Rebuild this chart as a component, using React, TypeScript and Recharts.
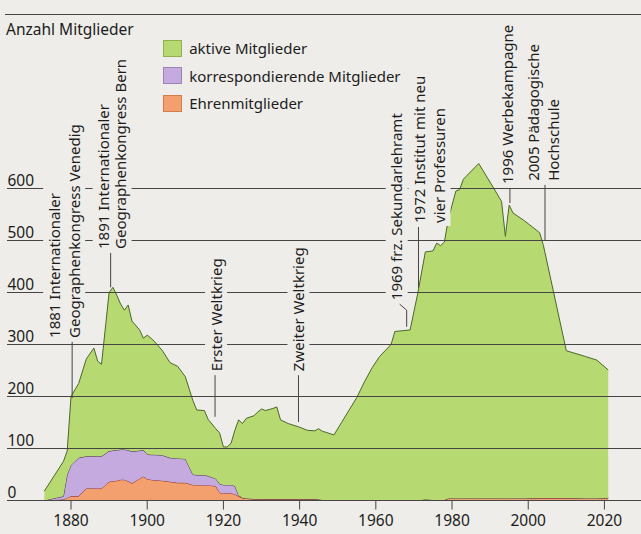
import React from "react";
import { AreaChart, Area, XAxis, YAxis, ReferenceLine, Legend } from "recharts";

// Jahre und Mitgliederzahlen
const years = [
  1873, 1878, 1879, 1880, 1882, 1884, 1886, 1887, 1888, 1890, 1891, 1892, 1893, 1894, 1895, 1896,
  1898, 1899, 1900, 1901, 1902, 1904, 1906, 1908, 1910, 1912, 1913, 1915, 1916, 1918, 1919, 1920,
  1921, 1922, 1923, 1924, 1925, 1926, 1928, 1929, 1930, 1931, 1933, 1934, 1935, 1937, 1940, 1942,
  1944, 1945, 1946, 1947, 1949, 1951, 1955, 1957, 1959, 1961, 1964, 1965, 1969, 1971, 1973, 1975,
  1976, 1977, 1978, 1979, 1981, 1982, 1983, 1987, 1991, 1993, 1994, 1995, 1996, 1999, 2003, 2004,
  2010, 2015, 2018, 2021,
];

const aktive = [
  18, 67, 45, 132, 143, 187, 208, 183, 177, 305, 314, 298, 280, 268, 279, 251,
  232, 215, 229, 224, 217, 201, 183, 177, 158, 142, 125, 124, 109, 96, 98, 73,
  73, 80, 107, 145, 143, 154, 160, 167, 173, 170, 174, 177, 152, 145, 138, 132,
  131, 136, 132, 131, 126, 150, 198, 228, 255, 277, 300, 325, 328, 398, 476, 479,
  495, 490, 496, 536, 591, 594, 614, 644, 596, 571, 504, 564, 549, 534, 510, 485,
  283, 273, 266, 246,
];

const korrespondierende = [
  0, 6, 45, 60, 74, 62, 62, 62, 62, 59, 59, 59, 58, 58, 60, 61,
  54, 51, 48, 48, 49, 49, 46, 47, 46, 20, 19, 20, 18, 14, 17, 16,
  16, 16, 16, 2, 0, 0, 0, 0, 0, 0, 0, 0, 0, 0, 0, 0,
  0, 0, 0, 0, 0, 0, 0, 0, 0, 0, 0, 0, 0, 0, 0, 0,
  0, 0, 0, 0, 0, 0, 0, 0, 0, 0, 0, 0, 0, 0, 0, 0,
  0, 0, 0, 0,
];

const ehren = [
  0, 2, 5, 8, 8, 23, 23, 23, 23, 36, 37, 38, 40, 40, 37, 33,
  42, 46, 41, 40, 39, 38, 36, 34, 34, 30, 30, 29, 29, 28, 15, 14,
  14, 14, 12, 8, 5, 4, 3, 3, 3, 3, 3, 3, 3, 3, 3, 3,
  3, 2, 1, 0, 0, 0, 0, 0, 0, 0, 0, 0, 0, 0, 2, 1,
  0, 0, 1, 4, 4, 4, 4, 4, 4, 4, 4, 4, 4, 4, 5, 5,
  5, 4, 4, 5,
];

const xTicks = [1880, 1900, 1920, 1940, 1960, 1980, 2000, 2020];
const yTicks = [0, 100, 200, 300, 400, 500, 600];

const data = years.map((year, i) => ({
  year,
  aktive: aktive[i],
  korrespondierende: korrespondierende[i],
  ehren: ehren[i],
}));

const BG = "#eeede9";
const INK = "#1c1c1c";
const GRID = "#454545";
const FONT = "'Noto Sans', 'Open Sans', sans-serif";

// Reihenfolge im Stapel: unten zuerst
const series = [
  { key: "ehren", name: "Ehrenmitglieder", fill: "#f4a06e", stroke: "#8a2b1e", border: "#d27d4c" },
  { key: "korrespondierende", name: "korrespondierende Mitglieder", fill: "#c4aade", stroke: "#4b2f4f", border: "#9b82b9" },
  { key: "aktive", name: "aktive Mitglieder", fill: "#b6d972", stroke: "#4a6828", border: "#8fb24f" },
];

// Ereignisse: Jahr der Hinweislinie, Linie von/bis (Mitglieder), Textzeilen
const annotations = [
  { year: 1880.3, from: 305, to: 197, lines: ["1881 Internationaler", "Geographenkongress Venedig"], offsets: [-18, 2] },
  { year: 1890.4, from: 476, to: 410, lines: ["1891 Internationaler", "Geographenkongress Bern"], offsets: [-7, 10] },
  { year: 1917.8, from: 241, to: 161, lines: ["Erster Weltkrieg"], offsets: [1] },
  { year: 1939.7, from: 241, to: 151, lines: ["Zweiter Weltkrieg"], offsets: [0] },
  { year: 1968.1, from: 366, to: 334, lines: ["1969 frz. Sekundarlehramt"], offsets: [-10], slant: true },
  { year: 1971.2, from: 526, to: 409, lines: ["1972 Institut mit neu", "vier Professuren"], offsets: [1, 21] },
  { year: 1995.2, from: 601, to: 572, lines: ["1996 Werbekampagne"], offsets: [-2] },
  { year: 2004.4, from: 607, to: 501, lines: ["2005 Pädagogische", "Hochschule"], offsets: [-11, 9] },
];

const ANN_SIZE = 15;

let ctx: CanvasRenderingContext2D | null = null;
const measure = (text: string, size: number) => {
  if (!ctx) ctx = document.createElement("canvas").getContext("2d");
  if (!ctx) return text.length * size * 0.55;
  ctx.font = `${size}px 'Noto Sans'`;
  return ctx.measureText(text).width;
};

const annotationLabel = (a: (typeof annotations)[number]) => (props: any) => {
  const vb = props.viewBox || {};
  const x = vb.x;
  const y = vb.y;
  if (x == null || y == null) return null;
  const slantH = a.slant ? 6 : 0;
  const start = y - 4 - slantH;
  const maxLen = Math.max(...a.lines.map((t) => measure(t, ANN_SIZE)));
  const colX = a.offsets.map((o) => x + o);
  const left = Math.min(...colX) - 11;
  const right = Math.max(...colX) + 11;
  return (
    <g>
      <rect x={left} y={start - maxLen - 3} width={right - left} height={maxLen + 6} fill={BG} />
      {a.slant && <line x1={x} y1={y} x2={x - 7} y2={y - slantH} stroke={GRID} strokeWidth={1} />}
      {a.lines.map((t, i) => (
        <text
          key={t}
          transform={`translate(${colX[i] + 5.5}, ${start}) rotate(-90)`}
          fontSize={ANN_SIZE}
          fontFamily={FONT}
          fill={INK}
          textAnchor="start"
        >
          {t}
        </text>
      ))}
    </g>
  );
};

const yLabel = (t: number) => (props: any) => {
  const vb = props.viewBox || {};
  return (
    <text x={vb.x + 0.5} y={vb.y - 3} fontSize={15.5} fontFamily={FONT} fill={INK}>
      {t}
    </text>
  );
};

const LegendBox = () => (
  <div style={{ fontFamily: FONT }}>
    {[...series].reverse().map((s) => (
      <div key={s.key} style={{ display: "flex", alignItems: "center", height: 27.5 }}>
        <span
          style={{
            width: 19,
            height: 17,
            background: s.fill,
            border: `1px solid ${s.border}`,
            boxSizing: "border-box",
            marginRight: 7.5,
            flex: "none",
          }}
        />
        <span style={{ fontSize: 15, color: INK, whiteSpace: "nowrap" }}>{s.name}</span>
      </div>
    ))}
  </div>
);

export default function App() {
  return (
    <div style={{ position: "relative", width: 641, height: 534, background: BG, fontFamily: FONT }}>
      <style>{"body{margin:0}"}</style>
      <div
        style={{
          position: "absolute",
          left: 5,
          right: 0,
          top: 14,
          borderTop: `1.5px solid ${GRID}`,
        }}
      />
      <div
        style={{
          position: "absolute",
          left: 6,
          top: 21,
          fontSize: 15.5,
          lineHeight: "16px",
          color: INK,
          whiteSpace: "nowrap",
        }}
      >
        Anzahl Mitglieder
      </div>
      <AreaChart width={641} height={534} data={data} margin={{ top: 136.5, right: 0, bottom: 0, left: 7 }}>
        <XAxis
          dataKey="year"
          type="number"
          domain={[1863.2, 2029.6]}
          ticks={xTicks}
          allowDataOverflow
          height={33.5}
          axisLine={false}
          tickSize={9}
          tickLine={{ stroke: GRID }}
          tickMargin={5}
          tick={{ fontSize: 15.5, fill: INK, fontFamily: FONT }}
        />
        <YAxis hide domain={[0, 700]} />
        {series.map((s) => (
          <Area
            key={s.key}
            type="linear"
            dataKey={s.key}
            name={s.name}
            stackId="m"
            fill={s.fill}
            fillOpacity={1}
            stroke={s.stroke}
            strokeWidth={1}
            dot={false}
            activeDot={false}
            isAnimationActive={false}
          />
        ))}
        {yTicks.map((t) => (
          <ReferenceLine key={`g${t}`} y={t} stroke={GRID} strokeWidth={1} label={yLabel(t)} />
        ))}
        {annotations.map((a) => (
          <ReferenceLine
            key={a.lines[0]}
            segment={[
              { x: a.year, y: a.from },
              { x: a.year, y: a.to },
            ]}
            stroke={GRID}
            strokeWidth={1}
            label={annotationLabel(a)}
          />
        ))}
        <Legend
          layout="horizontal"
          align="center"
          verticalAlign="middle"
          wrapperStyle={{ left: 162.7, top: 34.5, width: "auto" }}
          content={() => <LegendBox />}
        />
      </AreaChart>
    </div>
  );
}
